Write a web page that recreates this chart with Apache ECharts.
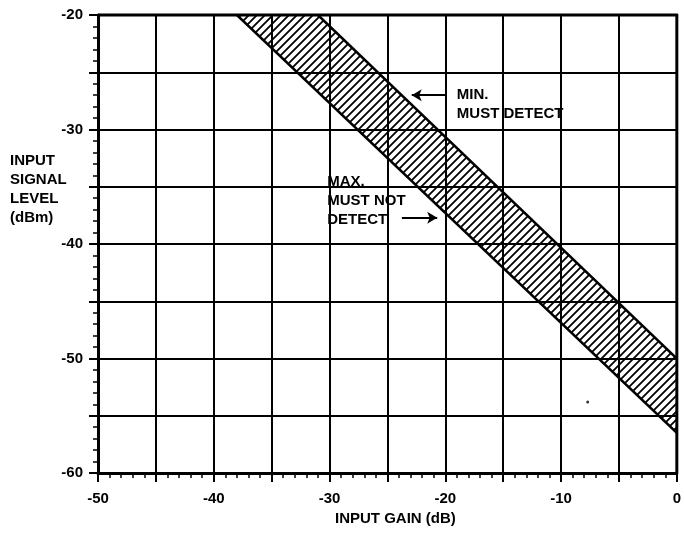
<!DOCTYPE html>
<html>
<head>
<meta charset="utf-8">
<script src="https://cdn.jsdelivr.net/npm/echarts@6/dist/echarts.min.js"></script>
<style>
html,body{margin:0;padding:0;background:#fff;}
#chart{width:684px;height:533px;}
</style>
</head>
<body>
<div id="chart"></div>
<script>
// ---- data ----
var xTicks = [-50, -40, -30, -20, -10, 0];
var yTicks = [-20, -30, -40, -50, -60];
// band polygon: lower (max must not detect) line and upper (min must detect) line
var maxMustNotDetect = [[-38, -20], [0, -56.5]];
var minMustDetect = [[-31, -20], [0, -50]];
var speck = [[-7.7, -53.8]];
var minLabel = { gain: -19.0, level: -27.8, text: 'MIN.\nMUST DETECT' };
var maxLabel = { gain: -30.2, level: -36.2, text: 'MAX.\nMUST NOT\nDETECT' };
var minArrow = [[-20.0, -27.0], [-22.9, -27.0]];
var maxArrow = [[-23.75, -37.7], [-20.7, -37.7]];

var FONT = 'Liberation Sans';
var FS = 15;

// hatch pattern
var pc = document.createElement('canvas');
pc.width = 8; pc.height = 8;
var g = pc.getContext('2d');
g.strokeStyle = '#000';
g.lineWidth = 1.8;
g.beginPath();
g.moveTo(-2, 10); g.lineTo(10, -2);
g.moveTo(-2, 2); g.lineTo(2, -2);
g.moveTo(6, 10); g.lineTo(10, 6);
g.stroke();

var polygon = [maxMustNotDetect[0], minMustDetect[0], minMustDetect[1], maxMustNotDetect[1]];

var chart = echarts.init(document.getElementById('chart'), null, { renderer: 'canvas' });
chart.setOption({
  backgroundColor: '#fff',
  animation: false,
  grid: { left: 98, right: 7, top: 15, bottom: 60 },
  xAxis: {
    type: 'value', min: -50, max: 0, interval: 5,
    axisLine: { onZero: false, lineStyle: { color: '#000', width: 3 } },
    axisTick: { show: true, inside: false, length: 9, lineStyle: { color: '#000', width: 2 } },
    minorTick: { show: true, splitNumber: 5, length: 5, lineStyle: { color: '#000', width: 1.5 } },
    splitLine: { show: true, lineStyle: { color: '#000', width: 2 } },
    axisLabel: {
      margin: 18, color: '#000', fontFamily: FONT, fontWeight: 'bold', fontSize: FS,
      formatter: function (v) { return xTicks.indexOf(v) >= 0 ? String(v) : ''; }
    }
  },
  yAxis: {
    type: 'value', min: -60, max: -20, interval: 5,
    axisLine: { show: true, onZero: false, lineStyle: { color: '#000', width: 3 } },
    axisTick: { show: true, inside: false, length: 9, lineStyle: { color: '#000', width: 2 } },
    minorTick: { show: true, splitNumber: 5, length: 5, lineStyle: { color: '#000', width: 1.5 } },
    splitLine: { show: true, lineStyle: { color: '#000', width: 2 } },
    axisLabel: {
      margin: 15, color: '#000', fontFamily: FONT, fontWeight: 'bold', fontSize: FS,
      formatter: function (v) { return yTicks.indexOf(v) >= 0 ? String(v) : ''; }
    }
  },
  series: [
    {
      type: 'custom',
      data: polygon,
      renderItem: function (params, api) {
        if (params.dataIndex !== 0) return null;
        var pts = polygon.map(function (p) { return api.coord(p); });
        return {
          type: 'group',
          children: [
            { type: 'polygon', shape: { points: pts }, style: { fill: { image: pc, repeat: 'repeat' }, stroke: null } },
            { type: 'polyline', shape: { points: [pts[0], pts[3]] }, style: { stroke: '#000', lineWidth: 2.5, fill: null } },
            { type: 'polyline', shape: { points: [pts[1], pts[2]] }, style: { stroke: '#000', lineWidth: 2.5, fill: null } }
          ]
        };
      },
      clip: true,
      z: 5
    },
    {
      type: 'scatter', data: speck, symbolSize: 3, itemStyle: { color: '#000' }, z: 6,
      markLine: {
        silent: true, symbol: ['none', 'arrow'], symbolSize: [9, 10],
        lineStyle: { color: '#000', width: 2, type: 'solid', opacity: 1 },
        label: { show: false },
        data: [
          [{ coord: minArrow[0] }, { coord: minArrow[1] }],
          [{ coord: maxArrow[0] }, { coord: maxArrow[1] }]
        ]
      }
    }
  ]
});

// annotation texts and borders placed through the axis scales
var font = 'bold ' + FS + 'px "Liberation Sans"';
var pMin = chart.convertToPixel({ gridIndex: 0 }, [minLabel.gain, minLabel.level]);
var pMax = chart.convertToPixel({ gridIndex: 0 }, [maxLabel.gain, maxLabel.level]);
var tl = chart.convertToPixel({ gridIndex: 0 }, [-50, -20]);
var br = chart.convertToPixel({ gridIndex: 0 }, [0, -60]);
chart.setOption({
  graphic: [
    { type: 'text', x: pMin[0], y: pMin[1], z: 20, style: { text: minLabel.text, fill: '#000', font: font, lineHeight: 19, verticalAlign: 'middle', align: 'left' } },
    { type: 'text', x: pMax[0], y: pMax[1], z: 20, style: { text: maxLabel.text, fill: '#000', font: font, lineHeight: 19, verticalAlign: 'middle', align: 'left' } },
    { type: 'text', left: 10, top: 151, style: { text: 'INPUT\nSIGNAL\nLEVEL\n(dBm)', fill: '#000', font: font, lineHeight: 19 } },
    { type: 'text', left: 335, top: 511, style: { text: 'INPUT GAIN (dB)', fill: '#000', font: font } },
    { type: 'line', shape: { x1: br[0], y1: tl[1] - 1, x2: br[0], y2: br[1] }, style: { stroke: '#000', lineWidth: 3 }, z: 10 },
    { type: 'line', shape: { x1: tl[0], y1: tl[1], x2: br[0] + 1, y2: tl[1] }, style: { stroke: '#000', lineWidth: 3 }, z: 10 }
  ]
});
</script>
</body>
</html>
